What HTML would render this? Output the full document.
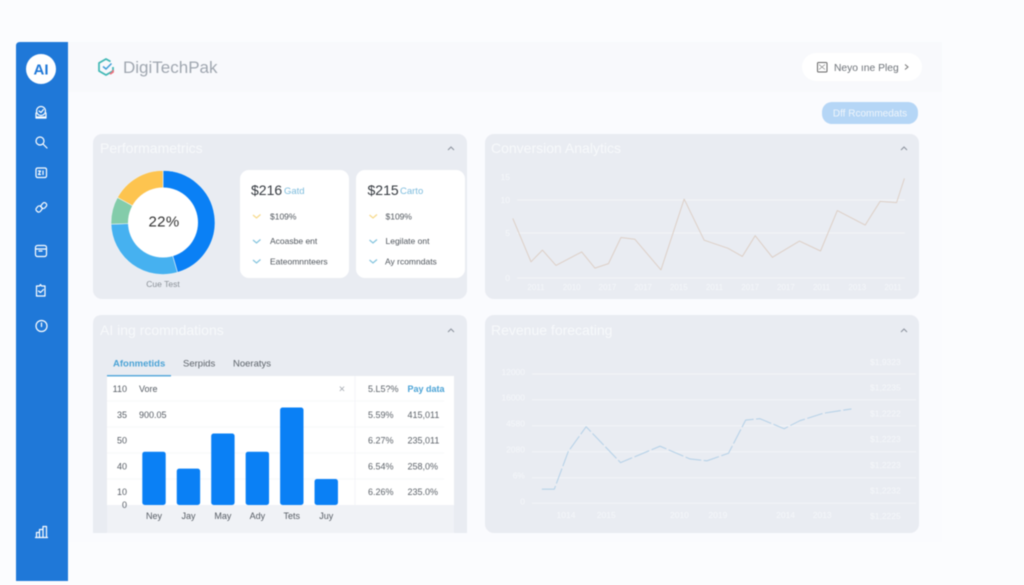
<!DOCTYPE html>
<html lang="en">
<head>
<meta charset="utf-8">
<title>DigiTechPak Dashboard</title>
<style>
html,body{margin:0;padding:0;background:#fbfcfe;}
body{width:1024px;height:585px;overflow:hidden;font-family:"Liberation Sans",sans-serif;}
svg{display:block;filter:blur(0.4px);}
text{font-family:"Liberation Sans",sans-serif;}
.ic{fill:none;stroke:#fff;stroke-width:1.2;stroke-linecap:round;stroke-linejoin:round;}
.ttl{fill:#f7f9fb;font-size:14px;}
.chev{fill:none;stroke:#8b929c;stroke-width:1;}
.tk{fill:#555b63;font-size:9px;}
.t2{fill:#5c6269;font-size:9px;}
</style>
</head>
<body>
<svg id="root" width="1024" height="585" viewBox="0 0 1024 585">
  <rect width="1024" height="585" fill="#fbfcfe"/>
  <rect x="68" y="42" width="874" height="500" fill="#fafbfe"/>
  <rect x="68" y="42" width="874" height="50" fill="#f8f9fc"/>

  <g>
    <path d="M20 42H68V581H16V46Q16 42 20 42Z" fill="#1f78d8"/>
    <circle cx="41" cy="69" r="15" fill="#fff"/>
    <text x="41" y="74.500" text-anchor="middle" font-size="15" font-weight="700" fill="#1f78d8">AI</text>
    <g class="ic"><circle cx="41" cy="111" r="4.500"/><path d="M36 117h10M36 113v5h10v-5M39 111l2 1.500 2.500-3"/></g>
    <g class="ic"><circle cx="40" cy="141" r="4"/><path d="M43 144l4 4"/></g>
    <g class="ic"><rect x="36" y="168" width="10.500" height="9.500" rx="1.500"/><path d="M38.500 171h2l-2 3.500h2M43 171v3.500"/></g>
    <g class="ic"><rect x="36.500" y="206" width="5" height="6" rx="2" transform="rotate(40 39 209)"/><rect x="42" y="202.500" width="4.500" height="6" rx="2" transform="rotate(40 44 205)"/></g>
    <g class="ic"><rect x="35.500" y="245.500" width="11" height="11" rx="2"/><path d="M35.500 249h11M39 251h3"/></g>
    <g class="ic"><path d="M36.500 286h3l1-1.500 1 1.500h3.500v10h-8.500zM38.500 291l2 1.500 3-3"/></g>
    <g class="ic"><circle cx="41.500" cy="326" r="5.500"/><path d="M41.500 323v3.500"/></g>
    <g class="ic"><path d="M35.500 537.500h12M36.500 537.500v-5h3v5M39.500 537.500v-8h3.500v8M43 537.500v-11h3.500v11"/></g>
  </g>

  <g>
    <path d="M110.500 61.500 106 59l-7 4v8l7 4 7-4v-4" fill="none" stroke="#3fb8b5" stroke-width="1.700" stroke-linejoin="round"/>
    <path d="M113 70v2l-3 2" fill="none" stroke="#ee6f7c" stroke-width="1.700"/>
    <path d="M103 66.500l3 2.500 5.500-5.500" fill="none" stroke="#3f9ed8" stroke-width="1.500"/>
    <text x="123" y="73" font-size="17" fill="#a0a7b0">DigiTechPak</text>
  </g>

  <g>
    <rect x="802" y="53" width="120" height="28" rx="14" fill="#fff"/>
    <rect x="817.500" y="62.500" width="9.500" height="9.500" rx="1" fill="none" stroke="#666" stroke-width="1"/>
    <path d="M819 64.500l6 5M825 64.500l-6 5" fill="none" stroke="#888" stroke-width="0.700"/>
    <text x="834" y="71" font-size="10.300" fill="#6d7278">Neyo ıne Pleg</text>
    <path d="M905 64.500l3 2.500-3 2.500" fill="none" stroke="#777"/>
  </g>
  <g>
    <rect x="822" y="102" width="96" height="22" rx="10" fill="#b5d6f6"/>
    <text x="870" y="116.500" text-anchor="middle" font-size="10" fill="#eff5fb">Dff Rcommedats</text>
  </g>

  <g>
    <rect x="93" y="134" width="374" height="165" rx="9" fill="#e9ecf2"/>
    <text class="ttl" x="100" y="153">Performametrics</text>
    <path class="chev" d="M448 150l3-3 3 3"/>
    <g id="donut"></g>
    <circle cx="163" cy="222.500" r="35" fill="#fff"/>
    <text x="164" y="226.500" text-anchor="middle" font-size="15" letter-spacing="0.300" fill="#333">22%</text>
    <text x="163" y="287" text-anchor="middle" font-size="8.500" fill="#8a9097">Cue Test</text>

    <g>
      <rect x="240" y="170" width="109" height="108" rx="9" fill="#fff"/>
      <text x="251" y="195" font-size="14" fill="#33383e">$216</text>
      <text x="284" y="194" font-size="9.500" fill="#7dbcdd">Gatd</text>
      <path d="M253 215l3.500 3 4-3.500" fill="none" stroke="#f7d98a" stroke-width="1.200"/>
      <text x="270" y="219.500" font-size="8.500" fill="#4f555c">$109%</text>
      <path d="M253 240l3.500 3 4-3.500" fill="none" stroke="#84c4de" stroke-width="1.200"/>
      <text x="270" y="244" font-size="8.500" fill="#4f555c">Acoasbe ent</text>
      <path d="M253 260l3.500 3 4-3.500" fill="none" stroke="#84c4de" stroke-width="1.200"/>
      <text x="270" y="264.500" font-size="8.500" fill="#4f555c">Eateomnnteers</text>
    </g>
    <g>
      <rect x="356" y="170" width="109" height="108" rx="9" fill="#fff"/>
      <text x="367.500" y="195" font-size="14" fill="#33383e">$215</text>
      <text x="400" y="194" font-size="9.500" fill="#7dbcdd">Carto</text>
      <path d="M369.500 215l3.500 3 4-3.500" fill="none" stroke="#f7d98a" stroke-width="1.200"/>
      <text x="385.500" y="219.500" font-size="8.500" fill="#4f555c">$109%</text>
      <path d="M369.500 240l3.500 3 4-3.500" fill="none" stroke="#84c4de" stroke-width="1.200"/>
      <text x="385.500" y="244" font-size="8.500" fill="#4f555c">Legilate ont</text>
      <path d="M369.500 260l3.500 3 4-3.500" fill="none" stroke="#84c4de" stroke-width="1.200"/>
      <text x="385" y="264.500" font-size="8.500" fill="#4f555c">Ay rcomndats</text>
    </g>
  </g>

  <g>
    <rect x="485" y="134" width="434" height="165" rx="9" fill="#e9ecf2"/>
    <text class="ttl" x="491" y="153">Conversion Analytics</text>
    <path class="chev" d="M901 150l3-3 3 3"/>
    <g id="conv"></g>
  </g>

  <g>
    <path d="M102 315H458Q467 315 467 324V533H93V324Q93 315 102 315Z" fill="#e9ecf2"/>
    <text class="ttl" x="100" y="335">AI ing rcomndations</text>
    <path class="chev" d="M448 332l3-3 3 3"/>
    <text x="113" y="366.500" font-size="9.500" fill="#4ba3d6" font-weight="700">Afonmetids</text>
    <text x="183" y="366.500" font-size="9.500" fill="#5c6269">Serpids</text>
    <text x="233" y="366.500" font-size="9.500" fill="#5c6269">Noeratys</text>
    <rect x="107" y="376" width="347" height="129" fill="#fff"/>
    <rect x="107" y="375" width="64" height="1.500" fill="#5aaadb"/>
    <rect x="107" y="505" width="347" height="28" fill="#f0f2f6"/>
    <text x="342" y="392.500" text-anchor="middle" font-size="11" fill="#a6abb2">×</text>
    <g id="bars"></g>
  </g>

  <g>
    <rect x="485" y="315" width="434" height="218" rx="9" fill="#e9ecf2"/>
    <text class="ttl" x="491" y="335">Revenue forecating</text>
    <path class="chev" d="M901 332l3-3 3 3"/>
    <g id="rev"></g>
  </g>
</svg>

<script>
// Donut
const donutLabels = ["Primary", "Secondary", "Tertiary", "Other"];
const donutValues = [45.5, 29, 8.5, 17];
const donutColors = ["#0a80f5", "#46b1f0", "#83ccaa", "#fdc44f"];

// Conversion chart
const convYTicks = [0, 5, 10, 15];
const convYTickLabels = ["0", "5", "10", "15"];
const convGridTicks = [0, 5, 10];
const convXTickLabels = ["2011","2010","2017","2017","2015","2011","2017","2017","2011","2013","2011"];
const convTime = [-0.65,-0.14,0.18,0.56,1.28,1.65,2.03,2.38,2.77,3.50,4.15,4.71,5.38,5.78,6.14,6.62,7.38,7.97,8.44,9.22,9.64,10.10,10.32];
const convValues = [7.2,1.8,3.1,1.4,2.9,1.1,1.6,4.5,4.3,0.9,10.2,4.2,3.3,2.4,4.7,2.3,4.1,3.0,8.4,6.2,9.8,9.6,14.7];

// Bar chart
const barCategories = ["Ney","Jay","May","Ady","Tets","Juy"];
const barValues = [41, 28, 55, 41, 75, 20];
const tableLeft = ["110","35","50","40","10"];
const tableName = ["Vore","900.05","","",""];
const tableRate = ["5.L5?%","5.59%","6.27%","6.54%","6.26%"];
const tableAmount = ["Pay data","415,011","235,011","258,0%","235.0%"];

// Revenue chart
const revYTicks = [0, 1000, 2000, 4500, 10000, 12000];
const revYTickLabels = ["0","6%","2080","4580","16000","12000"];
const revRightLabels = ["$1,9323","$1,2235","$1,2222","$1,2223","$1,2223","$1,2232","$1,2225"];
const revXTicks = [0, 1.1, 3.1, 4.15, 6, 7];
const revXTickLabels = ["1014","2015","2010","2019","2014","2013"];
const revTime = [-0.66,-0.32,0.06,0.55,1.49,2.57,3.39,3.85,4.44,4.91,5.30,5.96,6.39,7.03,7.80];
const revValues = [550,550,2000,4400,1580,2530,1720,1650,1940,5700,5980,4210,5560,7130,8040];

const NS = "http://www.w3.org/2000/svg";
function el(parent, tag, attrs, txt) {
  const n = document.createElementNS(NS, tag);
  for (const k in attrs) n.setAttribute(k, attrs[k]);
  if (txt !== undefined) n.textContent = txt;
  parent.appendChild(n);
  return n;
}
function piecewise(domain, range) {
  return function (v) {
    let i = 0;
    while (i < domain.length - 2 && v > domain[i + 1]) i++;
    const t = (v - domain[i]) / (domain[i + 1] - domain[i]);
    return range[i] + t * (range[i + 1] - range[i]);
  };
}

// ---- Donut
(function () {
  const g = document.getElementById("donut");
  const cx = 163, cy = 222.5, r = 52;
  const total = donutValues.reduce((a, b) => a + b, 0);
  let a0 = 0;
  donutValues.forEach(function (v, i) {
    const a1 = a0 + v / total * Math.PI * 2;
    const big = a1 - a0 > Math.PI ? 1 : 0;
    const d = "M" + cx + " " + cy +
      "L" + (cx + r * Math.sin(a0)) + " " + (cy - r * Math.cos(a0)) +
      "A" + r + " " + r + " 0 " + big + " 1 " + (cx + r * Math.sin(a1)) + " " + (cy - r * Math.cos(a1)) + "Z";
    const p = el(g, "path", { d: d, fill: donutColors[i], stroke: "#eef2f6", "stroke-width": 0.6 });
    
    
    a0 = a1;
  });
})();

// ---- Conversion chart
(function () {
  const g = document.getElementById("conv");
  const y = piecewise(convYTicks, [278, 233, 200, 177]);
  const x = function (t) { return 536 + t * 35.7; };
  convGridTicks.forEach(function (v) {
    const l = el(g, "line", { x1: 517, x2: 905, y1: y(v), y2: y(v), stroke: "#f3f5f8", "stroke-width": 1 });
    
    
  });
  convYTicks.forEach(function (v, i) {
    const t = el(g, "text", { x: 510, y: y(v) + 3, "text-anchor": "end", "font-size": 8.5, fill: "#f5f7fa" }, convYTickLabels[i]);
    
    
  });
  convXTickLabels.forEach(function (s, i) {
    const t = el(g, "text", { x: x(i), y: 290, "text-anchor": "middle", "font-size": 8, fill: "#f5f7fa" }, s);
    
    
  });
  const pts = convValues.map(function (v, i) { return x(convTime[i]) + "," + y(v); }).join(" ");
  const line = el(g, "polyline", { points: pts, fill: "none", stroke: "#ddcfc6", "stroke-width": 1, "stroke-linejoin": "round" });
  
  
})();

// ---- Bar chart
(function () {
  const g = document.getElementById("bars");
  const rowY = function (i) { return 389 + i * 25.8; };
  const lineY = function (i) { return 401 + i * 26; };
  const yV = function (v) { return 505 - v * 1.3; };
  const band = 34.45, x0 = 154;
  for (let i = 0; i < tableLeft.length - 1; i++) {
    const l = el(g, "line", { x1: 107, x2: 444, y1: lineY(i), y2: lineY(i), stroke: "#f7f8fa", "stroke-width": 1 });
    
    
  }
  const v = el(g, "line", { x1: 355, x2: 355, y1: 376, y2: 505, stroke: "#f3f5f8", "stroke-width": 1 });
  
  

  tableLeft.forEach(function (s, i) {
    const a = el(g, "text", { x: 127, y: rowY(i) + 3, "text-anchor": "end", class: "tk" }, s);
    
    
    if (tableName[i]) {
      const b = el(g, "text", { x: 139, y: rowY(i) + 3, class: "tk" }, tableName[i]);
      
      
    }
    const c = el(g, "text", { x: 368, y: rowY(i) + 3, class: "t2" }, tableRate[i]);
    
    
    const d = el(g, "text", { x: 407.5, y: rowY(i) + 3, class: "t2" }, tableAmount[i]);
    if (i === 0) d.setAttribute("style", "fill:#4ba3d6;font-weight:700");
    
    
  });
  const zero = el(g, "text", { x: 127, y: yV(0) + 3, "text-anchor": "end", class: "tk" }, "0");
  
  

  barValues.forEach(function (val, i) {
    const cx = x0 + i * band;
    const r = el(g, "rect", { x: cx - 11.7, y: yV(val), width: 23.4, height: yV(0) - yV(val), rx: 2.5, fill: "#0a80f5" });
    
    
    const t = el(g, "text", { x: cx, y: 519, "text-anchor": "middle", class: "tk" }, barCategories[i]);
    
    
  });
})();

// ---- Revenue chart
(function () {
  const g = document.getElementById("rev");
  const y = piecewise(revYTicks, [503.3, 477.7, 451.7, 425.7, 399.7, 374]);
  const x = function (t) { return 566 + t * 36.6; };
  revYTicks.forEach(function (v, i) {
    const l = el(g, "line", { x1: 532, x2: 916, y1: y(v), y2: y(v), stroke: "#f3f5f8", "stroke-width": 1 });
    
    
    const t = el(g, "text", { x: 525, y: y(v) + 1, "text-anchor": "end", "font-size": 8.5, fill: "#f5f7fa" }, revYTickLabels[i]);
    
    
  });
  revRightLabels.forEach(function (s, i) {
    const t = el(g, "text", { x: 870, y: 365 + i * 25.7, "font-size": 8.5, fill: "#f5f7fa" }, s);
    
    
  });
  revXTicks.forEach(function (v, i) {
    const t = el(g, "text", { x: x(v), y: 518, "text-anchor": "middle", "font-size": 8.5, fill: "#f5f7fa" }, revXTickLabels[i]);
    
    
  });
  const pts = revValues.map(function (v, i) { return x(revTime[i]) + "," + y(v); }).join(" ");
  const line = el(g, "polyline", { points: pts, fill: "none", stroke: "#b7d2e8", "stroke-width": 1.1, "stroke-dasharray": "16 2.5", "stroke-linejoin": "round" });
  
  
})();
</script>
</body>
</html>
